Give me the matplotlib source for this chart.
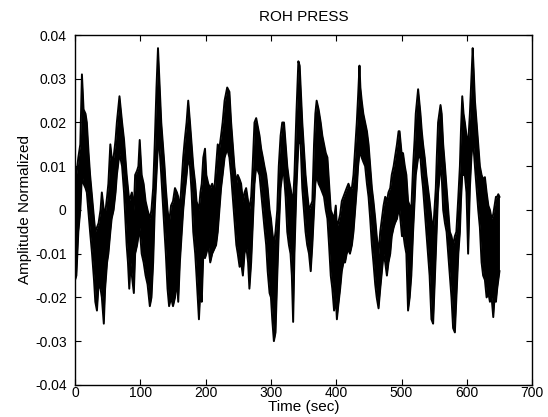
import numpy as np
import matplotlib
matplotlib.use("Agg")
import matplotlib.pyplot as plt

# time (sec) and upper / lower edge of the noisy trace
t = [0, 2, 5, 8, 10.5, 13, 16, 18, 20.7, 23, 26, 29, 31, 33.5, 36, 39, 41, 44, 46, 49,
     51, 54, 56, 59, 62, 64, 68, 72, 75, 77, 79, 81, 83, 85, 87, 90, 92, 95, 97, 99,
     102, 105, 108, 111, 114.5, 117, 119.6, 122, 124.7, 127, 129, 132, 135, 137, 139,
     141.6, 144, 147, 150, 153, 156, 158, 160.5, 163, 165.6, 168, 170.8, 173.3, 176,
     178.5, 181, 184, 186, 189.7, 192, 194, 196.4, 199, 201, 204, 207, 210, 213, 216,
     218.5, 221, 223.6, 226, 229, 233, 236.4, 239, 241.5, 244, 247, 249.2, 252, 254.3,
     257, 259.5, 262, 265, 267, 269.7, 272, 274.8, 277.4, 280, 282.5, 285, 287.6, 290,
     292.7, 295, 297.9, 300, 302, 304.5, 307, 309.7, 312, 314.8, 317.3, 320, 322.5, 325,
     327.5, 330, 332, 334, 336, 339, 342, 344, 345.5, 348, 350.5, 353, 355.5, 358.3,
     360.9, 363.4, 366, 368, 370, 373, 376.2, 378.7, 381.3, 384, 386.5, 389, 391.6, 394,
     396.7, 399.3, 401, 403, 406, 408.5, 411, 413.5, 416, 418.7, 421, 424, 426.4, 429,
     431.5, 433.5, 435.6, 437, 439, 441.5, 444.3, 447, 449.5, 452, 454.6, 457, 459.7,
     462, 464.8, 467.4, 470, 472.5, 475, 477.6, 480, 482.7, 485, 487.9, 490, 493, 495.5,
     497, 500.7, 502.3, 505, 507.4, 510, 512.5, 515, 517.7, 520, 521.8, 525.4, 529, 531,
     533, 535.5, 538, 540.5, 543, 545.8, 548.4, 550.5, 552.5, 554, 556, 559.7, 561.5,
     563.8, 566.5, 569, 571.5, 574, 576.5, 579, 581.7, 584, 587, 589.4, 591, 593, 595,
     597, 599.5, 602, 604.7, 607, 609, 610.5, 612.4, 615, 617.5, 620, 622.6, 625, 627.7,
     630.3, 633, 635.4, 638, 640.5, 642.5, 644.6, 646.5, 648.2, 650]

upper = [0.010, 0.008, 0.012, 0.015, 0.031, 0.023, 0.022, 0.020, 0.013, 0.008, 0.003,
         -0.002, -0.005, -0.004, -0.003, 0.000, 0.004, 0.000, -0.001, 0.003, 0.006, 0.015,
         0.012, 0.012, 0.016, 0.020, 0.026, 0.020, 0.016, 0.012, 0.008, 0.005, 0.002, 0.003,
         0.004, 0.000, 0.008, 0.009, 0.010, 0.016, 0.008, 0.006, 0.002, 0.000, -0.002,
         0.000, 0.005, 0.015, 0.028, 0.037, 0.030, 0.020, 0.014, 0.010, 0.005, 0.000,
         -0.003, 0.001, 0.002, 0.005, 0.004, 0.003, 0.000, 0.006, 0.012, 0.016, 0.020,
         0.025, 0.020, 0.015, 0.010, 0.006, 0.002, 0.000, 0.004, 0.006, 0.012, 0.014,
         0.008, 0.006, 0.005, 0.006, 0.004, 0.010, 0.015, 0.014, 0.017, 0.020, 0.025,
         0.028, 0.027, 0.020, 0.015, 0.010, 0.006, 0.008, 0.007, 0.006, 0.002, 0.004,
         0.005, 0.002, 0.000, 0.003, 0.010, 0.020, 0.021, 0.019, 0.017, 0.014, 0.012,
         0.010, 0.008, 0.005, 0.000, -0.002, -0.005, -0.008, -0.005, 0.000, 0.010, 0.017,
         0.020, 0.020, 0.015, 0.010, 0.007, 0.005, 0.003, 0.002, 0.008, 0.022, 0.034,
         0.033, 0.028, 0.020, 0.014, 0.008, 0.004, 0.000, 0.001, 0.002, 0.015, 0.022,
         0.025, 0.023, 0.020, 0.017, 0.015, 0.013, 0.012, 0.006, 0.000, -0.001, -0.002,
         0.001, -0.004, -0.003, -0.001, 0.002, 0.003, 0.004, 0.005, 0.006, 0.005, 0.005,
         0.008, 0.014, 0.020, 0.026, 0.033, 0.028, 0.025, 0.022, 0.020, 0.018, 0.015,
         0.010, 0.005, 0.002, -0.002, -0.006, -0.010, -0.005, -0.002, 0.001, 0.003, 0.002,
         0.004, 0.005, 0.008, 0.010, 0.012, 0.015, 0.018, 0.018, 0.012, 0.013, 0.010,
         0.008, 0.002, 0.001, 0.000, 0.010, 0.016, 0.022, 0.0276, 0.022, 0.018, 0.015,
         0.012, 0.008, 0.005, 0.002, -0.002, -0.005, 0.000, 0.005, 0.012, 0.020, 0.024,
         0.022, 0.015, 0.010, 0.005, 0.000, -0.005, -0.006, -0.008, -0.006, -0.005, 0.003,
         0.010, 0.018, 0.026, 0.022, 0.020, 0.017, 0.015, 0.022, 0.030, 0.037, 0.032,
         0.025, 0.020, 0.015, 0.010, 0.008, 0.007, 0.0075, 0.004, 0.001, 0.000, -0.002,
         -0.001, 0.001, 0.003, 0.003, 0.0036, 0.003]

lower = [-0.016, -0.015, -0.005, 0.000, 0.008, 0.006, 0.005, 0.004, -0.001, -0.005,
         -0.010, -0.016, -0.021, -0.023, -0.017, -0.018, -0.020, -0.026, -0.018, -0.012,
         -0.010, -0.005, -0.002, 0.000, 0.004, 0.008, 0.013, 0.010, 0.004, -0.002, -0.008,
         -0.012, -0.018, -0.012, -0.015, -0.019, -0.010, -0.008, -0.006, -0.004, -0.010,
         -0.012, -0.015, -0.017, -0.022, -0.020, -0.012, 0.000, 0.008, 0.015, 0.015,
         0.008, 0.000, -0.005, -0.010, -0.018, -0.022, -0.020, -0.022, -0.020, -0.016,
         -0.021, -0.012, -0.006, 0.000, 0.004, 0.008, 0.012, 0.010, 0.004, -0.005, -0.010,
         -0.015, -0.025, -0.018, -0.021, -0.010, -0.011, -0.010, -0.008, -0.012, -0.010,
         -0.009, -0.008, -0.005, 0.000, 0.005, 0.008, 0.012, 0.014, 0.012, 0.008, 0.003,
         -0.002, -0.008, -0.010, -0.013, -0.012, -0.015, -0.010, -0.008, -0.012, -0.018,
         -0.012, -0.004, 0.006, 0.010, 0.009, 0.008, 0.004, 0.000, -0.004, -0.008, -0.014,
         -0.019, -0.020, -0.025, -0.030, -0.028, -0.015, -0.005, 0.005, 0.008, 0.008,
         0.003, -0.005, -0.008, -0.010, -0.015, -0.0256, -0.010, 0.005, 0.015, 0.016,
         0.015, 0.005, 0.000, -0.005, -0.008, -0.010, -0.014, -0.008, 0.000, 0.006, 0.008,
         0.006, 0.005, 0.004, 0.003, 0.000, -0.002, -0.008, -0.015, -0.018, -0.023, -0.020,
         -0.025, -0.022, -0.018, -0.014, -0.012, -0.012, -0.010, -0.009, -0.010, -0.008,
         -0.005, 0.000, 0.005, 0.010, 0.013, 0.013, 0.012, 0.011, 0.010, 0.006, 0.003,
         -0.002, -0.008, -0.012, -0.017, -0.020, -0.0225, -0.018, -0.014, -0.010, -0.012,
         -0.015, -0.012, -0.010, -0.006, -0.004, -0.003, -0.002, 0.000, 0.000, -0.006,
         -0.005, -0.008, -0.010, -0.023, -0.020, -0.015, -0.005, 0.002, 0.008, 0.012,
         0.012, 0.008, 0.005, 0.000, -0.005, -0.010, -0.015, -0.025, -0.026, -0.018,
         -0.010, -0.004, 0.004, 0.010, 0.008, 0.000, -0.003, -0.005, -0.010, -0.015,
         -0.020, -0.027, -0.028, -0.020, -0.010, -0.005, 0.002, 0.008, 0.008, 0.008,
         0.004, -0.010, 0.005, 0.012, 0.016, 0.014, 0.010, 0.005, 0.000, -0.004, -0.012,
         -0.015, -0.016, -0.020, -0.019, -0.021, -0.020, -0.0245, -0.020, -0.021, -0.018,
         -0.016, -0.014]

x_ticks = [0, 100, 200, 300, 400, 500, 600, 700]
y_ticks = [0.04, 0.03, 0.02, 0.01, 0, -0.01, -0.02, -0.03, -0.04]
y_tick_labels = ["0.04", "0.03", "0.02", "0.01", "0", "-0.01", "-0.02", "-0.03", "-0.04"]

plt.rcParams["font.family"] = ["Liberation Sans", "DejaVu Sans"]

fig = plt.figure(figsize=(5.48, 4.17), dpi=100)
ax = fig.add_axes([0.137, 0.077, 0.834, 0.839])

ax.fill_between(t, lower, upper, color="black", linewidth=0)
ax.plot(t, upper, color="black", linewidth=1.4)
ax.plot(t, lower, color="black", linewidth=1.4)

ax.set_xlim(0, 700)
ax.set_ylim(-0.04, 0.04)
ax.set_xticks(x_ticks)
ax.set_yticks(y_ticks)
ax.set_yticklabels(y_tick_labels)
ax.tick_params(axis="both", direction="in", top=True, right=True, length=4,
               width=0.8, labelsize=10)
ax.tick_params(axis="x", pad=1)
ax.tick_params(axis="y", pad=6)
for s in ax.spines.values():
    s.set_linewidth(1.0)

ax.set_title("ROH PRESS", fontsize=11, pad=10)
ax.set_xlabel("Time (sec)", fontsize=11, labelpad=0)
ax.set_ylabel("Amplitude Normalized", fontsize=11, labelpad=2)

fig.savefig("out.png", dpi=100)
